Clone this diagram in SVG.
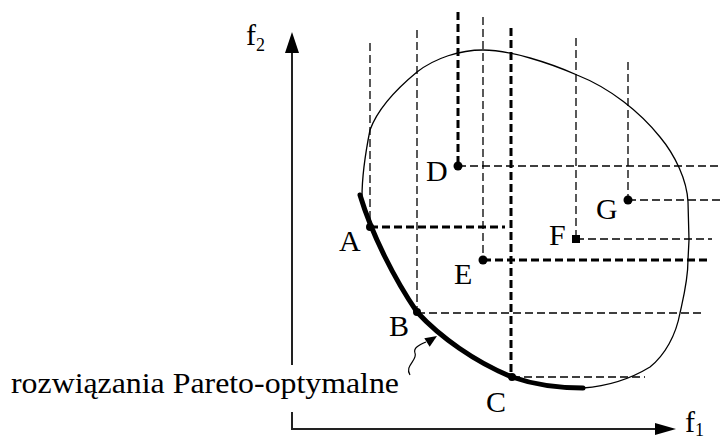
<svg xmlns="http://www.w3.org/2000/svg" width="722" height="441" viewBox="0 0 722 441">
<style>
text{font-family:'Liberation Serif','DejaVu Serif','Times New Roman',serif;fill:#000}
.lbl{font-size:30px}
.sub{font-size:18px}
.thin{stroke:#000;stroke-width:1.3;fill:none;stroke-dasharray:8 4}
.thick{stroke:#000;stroke-width:3;fill:none;stroke-dasharray:8 4}
.axis{stroke:#222;stroke-width:2;fill:none}
</style>
<rect width="722" height="441" fill="#fff"/>
<g id="axes">
<line class="axis" x1="292" y1="50" x2="292" y2="365"/>
<line class="axis" x1="292" y1="412" x2="292" y2="429"/>
<line class="axis" x1="291" y1="429" x2="658" y2="429"/>
<polygon points="292,32 285,53 299,53" fill="#000"/>
<polygon points="676,429 655,423 655,435" fill="#000"/>
<text class="lbl" x="246" y="45">f<tspan class="sub" dy="6">2</tspan></text>
<text class="lbl" x="685" y="432">f<tspan class="sub" dy="4">1</tspan></text>
</g>
<g id="region">
<path d="M583,388 C610,386 632,378 650,367 C665,355 676,335 680,313 C684,295 688,280 688,260 L689,240 L688,202 C687,180 675,155 660,137 C640,112 610,88 577,75 C550,63 510,50 483,50 C460,50 435,58 417,72 C400,86 378,108 370,130 C366,150 362,175 362,197" fill="none" stroke="#000" stroke-width="1.3"/>
</g>
<g id="connectors">
<line class="thin" x1="370" y1="43" x2="370" y2="227"/>
<line class="thin" x1="417" y1="30" x2="417" y2="312"/>
<line class="thick" x1="458" y1="12" x2="458" y2="166"/>
<line class="thin" x1="483" y1="17" x2="483" y2="260"/>
<line class="thick" x1="511" y1="28" x2="511" y2="377"/>
<line class="thin" x1="576" y1="38" x2="576" y2="239"/>
<line class="thin" x1="628" y1="62" x2="628" y2="200"/>
<line class="thick" x1="370" y1="227" x2="505" y2="227"/>
<line class="thin" x1="417" y1="313" x2="703" y2="313"/>
<line class="thin" x1="512" y1="377" x2="645" y2="377"/>
<line class="thin" x1="458" y1="166" x2="722" y2="166"/>
<line class="thick" x1="483" y1="260" x2="707" y2="260"/>
<line class="thin" x1="576" y1="239" x2="712" y2="239"/>
<line class="thin" x1="628" y1="200" x2="722" y2="200"/>
<path d="M410,375 C404,366 418,360 415,353 C413,348 419,345 426,342" fill="none" stroke="#000" stroke-width="1.2"/>
<polygon points="437,336 424.3,338.3 429.7,346.7" fill="#000"/>
</g>
<g id="pareto">
<path d="M360,195 C372,235 395,280 417,312 C440,337 475,362 512,377 C535,385 560,388 583,388" fill="none" stroke="#000" stroke-width="5" stroke-linecap="round"/>
</g>
<g id="node-A"><circle cx="370" cy="227" r="4"/><text class="lbl" x="339" y="251">A</text></g>
<g id="node-B"><circle cx="417" cy="312" r="4"/><text class="lbl" x="389" y="336">B</text></g>
<g id="node-C"><circle cx="512" cy="377" r="4"/><text class="lbl" x="486" y="412">C</text></g>
<g id="node-D"><circle cx="458" cy="166" r="4.5"/><text class="lbl" x="426" y="181">D</text></g>
<g id="node-E"><circle cx="483" cy="260" r="4.5"/><text class="lbl" x="454" y="284">E</text></g>
<g id="node-F"><rect x="572" y="235" width="8" height="8"/><text class="lbl" x="549" y="245">F</text></g>
<g id="node-G"><circle cx="628" cy="200" r="4.5"/><text class="lbl" x="596" y="219">G</text></g>
<g id="caption"><text class="lbl" x="11" y="393" textLength="388" lengthAdjust="spacingAndGlyphs">rozwiązania Pareto-optymalne</text></g>
</svg>
